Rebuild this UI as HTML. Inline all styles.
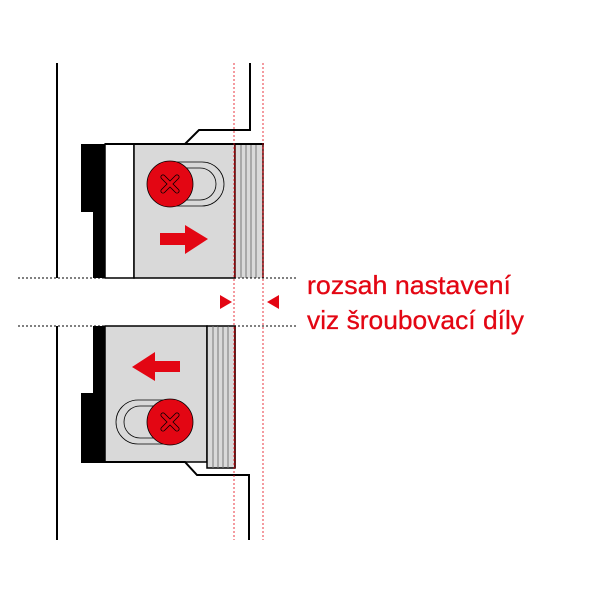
<!DOCTYPE html>
<html><head><meta charset="utf-8"><style>html,body{margin:0;padding:0;background:#fff}svg{display:block}</style></head>
<body>
<svg width="600" height="600" viewBox="0 0 600 600" xmlns="http://www.w3.org/2000/svg">
<line x1="57" y1="63" x2="57" y2="278" stroke="#000" stroke-width="2"/>
<line x1="57" y1="326" x2="57" y2="540" stroke="#000" stroke-width="2"/>
<polygon points="81,144 105,144 105,278 93,278 93,212 81,212" fill="#000"/>
<rect x="105" y="144" width="29" height="134" fill="#fff" stroke="#000" stroke-width="1.5"/>
<rect x="134" y="144" width="101" height="134" fill="#d9d9d9" stroke="#000" stroke-width="1.5"/>
<rect x="235" y="144" width="28" height="134" fill="#d9d9d9"/>
<g stroke="#777" stroke-width="1"><line x1="241" y1="144" x2="241" y2="278"/><line x1="246" y1="144" x2="246" y2="278"/><line x1="251" y1="144" x2="251" y2="278"/><line x1="256" y1="144" x2="256" y2="278"/></g>
<line x1="235" y1="144" x2="235" y2="278" stroke="#5a0000" stroke-width="1.5"/>
<line x1="263" y1="144" x2="263" y2="278" stroke="#5a0000" stroke-width="1.5"/>
<polyline points="105,144 185,144 199,130 250,130 250,63" fill="none" stroke="#000" stroke-width="2"/>
<line x1="185" y1="144" x2="264" y2="144" stroke="#000" stroke-width="2"/>
<path d="M170,162 H202 A22,22 0 0 1 202,206 H170 Z" fill="#d9d9d9" stroke="#000" stroke-width="0.8"/>
<path d="M170,168 H200 A16,16 0 0 1 200,200 H170 Z" fill="none" stroke="#000" stroke-width="0.8"/>
<circle cx="170" cy="184" r="23" fill="#e30613" stroke="#000" stroke-width="0.8"/>
<path d="M163,177 L177,191 M177,177 L163,191" stroke="#000" stroke-width="5" stroke-linecap="round"/>
<path d="M163,177 L177,191 M177,177 L163,191" stroke="#e30613" stroke-width="3.4" stroke-linecap="round"/>
<polygon points="160,233 185,233 185,225 208,239 185,254 185,245 160,245" fill="#e30613"/>
<polygon points="93,326 105,326 105,462 81,462 81,393 93,393" fill="#000"/>
<rect x="105" y="326" width="102" height="136" fill="#d9d9d9" stroke="#000" stroke-width="1.5"/>
<rect x="207" y="326" width="28" height="142" fill="#d9d9d9" stroke="#000" stroke-width="1.5"/>
<g stroke="#777" stroke-width="1"><line x1="213" y1="326" x2="213" y2="468"/><line x1="218" y1="326" x2="218" y2="468"/><line x1="223" y1="326" x2="223" y2="468"/><line x1="228" y1="326" x2="228" y2="468"/></g>
<line x1="235" y1="326" x2="235" y2="468" stroke="#5a0000" stroke-width="1.5"/>
<polyline points="81,462 185,462 197,475 249,475 249,540" fill="none" stroke="#000" stroke-width="2"/>
<path d="M170,400 H138 A22,22 0 0 0 138,444 H170 Z" fill="#d9d9d9" stroke="#000" stroke-width="0.8"/>
<path d="M170,406 H140 A16,16 0 0 0 140,438 H170 Z" fill="none" stroke="#000" stroke-width="0.8"/>
<circle cx="170" cy="422" r="23" fill="#e30613" stroke="#000" stroke-width="0.8"/>
<path d="M163,415 L177,429 M177,415 L163,429" stroke="#000" stroke-width="5" stroke-linecap="round"/>
<path d="M163,415 L177,429 M177,415 L163,429" stroke="#e30613" stroke-width="3.4" stroke-linecap="round"/>
<polygon points="180,361 155,361 155,352 132,367 155,381 155,372 180,372" fill="#e30613"/>
<line x1="18" y1="278" x2="298" y2="278" stroke="#000" stroke-width="1" stroke-dasharray="2,2"/>
<line x1="18" y1="326" x2="298" y2="326" stroke="#000" stroke-width="1" stroke-dasharray="2,2"/>
<line x1="234" y1="63" x2="234" y2="540" stroke="#e30613" stroke-width="1" stroke-dasharray="2,2" opacity="0.8"/>
<line x1="263" y1="63" x2="263" y2="540" stroke="#e30613" stroke-width="1" stroke-dasharray="2,2" opacity="0.8"/>
<polygon points="220,295 232,302 220,309" fill="#e30613"/>
<polygon points="279,295 267,302 279,309" fill="#e30613"/>
<text x="307" y="294" font-family="Liberation Sans, sans-serif" font-size="26" fill="#e30613" stroke="#e30613" stroke-width="0.3" textLength="204" lengthAdjust="spacingAndGlyphs">rozsah nastavení</text>
<text x="307" y="329" font-family="Liberation Sans, sans-serif" font-size="26" fill="#e30613" stroke="#e30613" stroke-width="0.3" textLength="217" lengthAdjust="spacingAndGlyphs">viz šroubovací díly</text>
</svg>
</body></html>
